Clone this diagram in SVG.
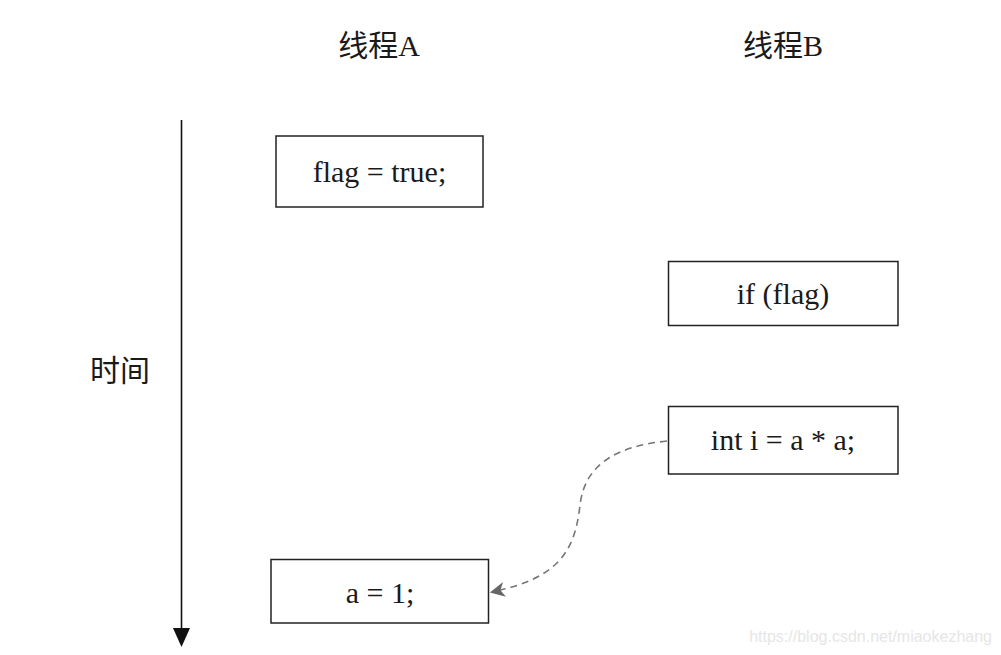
<svg xmlns="http://www.w3.org/2000/svg" width="1001" height="655" viewBox="0 0 1001 655">
<defs>
<style>
.box{fill:#fff;stroke:#222;stroke-width:1.5}
.code{font-family:"Liberation Serif","Times New Roman",serif;font-size:30px;fill:#1a1a1a;text-anchor:middle}
.cjk{font-family:"Liberation Serif","Noto Sans CJK SC",serif;font-size:30px;fill:#1a1a1a;text-anchor:middle}
.conn{fill:none;stroke:#777;stroke-width:1.6;stroke-dasharray:7 5}
</style>
<marker id="grayArrow" viewBox="0 0 14 14" refX="12" refY="7" markerWidth="15" markerHeight="15" markerUnits="userSpaceOnUse" orient="auto">
<path d="M0,0 L14,7 L0,14 L4,7 Z" fill="#666"/>
</marker>
</defs>
<rect width="1001" height="655" fill="#fff"/>
<g id="labels">
<text class="cjk" x="379" y="56">线程A</text>
<text class="cjk" x="783" y="56">线程B</text>
<text class="cjk" x="120" y="381">时间</text>
</g>
<g id="time-axis">
<line x1="181.5" y1="120" x2="181.5" y2="632" stroke="#111" stroke-width="1.6"/>
<path d="M173,628 L190,628 L181.5,647 Z" fill="#111"/>
</g>
<g id="node-flag">
<rect class="box" x="276" y="136" width="207" height="71"/>
<text class="code" x="379.5" y="182">flag = true;</text>
</g>
<g id="node-if">
<rect class="box" x="668.5" y="261.5" width="229.5" height="64"/>
<text class="code" x="783" y="304">if (flag)</text>
</g>
<g id="node-int">
<rect class="box" x="668.5" y="406.5" width="229.5" height="67.5"/>
<text class="code" x="783" y="450">int i = a * a;</text>
</g>
<g id="node-a">
<rect class="box" x="271" y="559.5" width="217.5" height="63.5"/>
<text class="code" x="380" y="603">a = 1;</text>
</g>
<g id="connectors">
<path class="conn" d="M667,441 C620,446 585,462 580,505 C575,550 560,578 492,592" marker-end="url(#grayArrow)"/>
</g>
<text x="992" y="642" font-family="Liberation Sans,Arial,sans-serif" font-size="16" fill="#e6e6e6" text-anchor="end">https://blog.csdn.net/miaokezhang</text>
</svg>
